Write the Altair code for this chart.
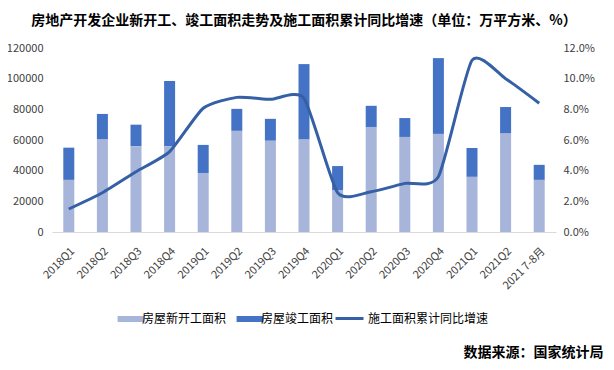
import altair as alt
import pandas as pd

periods = ["2018Q1", "2018Q2", "2018Q3", "2018Q4",
           "2019Q1", "2019Q2", "2019Q3", "2019Q4",
           "2020Q1", "2020Q2", "2020Q3", "2020Q4",
           "2021Q1", "2021Q2", "2021 7-8月"]
new_starts = [34000, 60500, 56000, 56000, 38500, 66000, 59600, 60600,
              27400, 68500, 62000, 64000, 36000, 64500, 34000]
completions = [21000, 16500, 14000, 42500, 18300, 14300, 14200, 48900,
               15600, 13800, 12300, 49400, 18800, 17000, 9800]
growth = [1.5, 2.56, 3.93, 5.24, 8.07, 8.78, 8.65, 8.72,
          2.56, 2.63, 3.17, 3.61, 11.2, 10.0, 8.4]

s_new = "房屋新开工面积"
s_comp = "房屋竣工面积"
s_line = "施工面积累计同比增速"

rows = []
for p, a, b in zip(periods, new_starts, completions):
    rows.append({"period": p, "series": s_new, "value": a, "ord": 0})
    rows.append({"period": p, "series": s_comp, "value": b, "ord": 1})
bars_df = pd.DataFrame(rows)
line_df = pd.DataFrame({"period": periods, "rate": [g / 100 for g in growth], "series": s_line})

FONT = "Noto Sans CJK SC"
TXT = "#404040"

x_enc = alt.X("period:N", sort=periods,
              scale=alt.Scale(paddingInner=0, paddingOuter=0),
              axis=alt.Axis(title="数据来源：国家统计局", titleAnchor="end", titleAlign="right",
                            titleX=551, titleY=120, titleBaseline="middle",
                            titleFontSize=14, titleFontWeight="bold", titleColor="#000000",
                            titleFont=FONT,
                            labelAngle=-45, labelFontSize=11, labelColor=TXT, labelFont=FONT,
                            ticks=False, domainColor="#D9D9D9", domainWidth=1,
                            labelPadding=13, grid=False))

bars = alt.Chart(bars_df).mark_bar(width=11).encode(
    x=x_enc,
    y=alt.Y("value:Q", stack="zero",
            scale=alt.Scale(domain=[0, 120000]),
            axis=alt.Axis(title=None, values=[0, 20000, 40000, 60000, 80000, 100000, 120000],
                          format="d", ticks=False, domain=False, grid=False,
                          labelFontSize=11, labelColor=TXT, labelFont=FONT, labelPadding=9)),
    color=alt.Color("series:N",
                    scale=alt.Scale(domain=[s_new, s_comp], range=["#A8B5DA", "#4472C4"]),
                    legend=alt.Legend(title=None, orient="none", legendX=72, legendY=264,
                                      direction="horizontal",
                                      symbolType="M-2,-0.45L2,-0.45L2,0.45L-2,0.45Z", symbolSize=180,
                                      symbolStrokeWidth=0,
                                      labelFontSize=12, labelFont=FONT, labelColor="#000000",
                                      labelOffset=4, columnPadding=9)),
    order=alt.Order("ord:Q"),
)

line = alt.Chart(line_df).mark_line(interpolate="cardinal", tension=0.4, strokeWidth=3).encode(
    x=alt.X("period:N", sort=periods),
    y=alt.Y("rate:Q", scale=alt.Scale(domain=[0, 0.12]),
            axis=alt.Axis(title=None, orient="right", values=[0, 0.02, 0.04, 0.06, 0.08, 0.10, 0.12],
                          format=".1%", ticks=False, domain=False, grid=False,
                          labelFontSize=11, labelColor=TXT, labelFont=FONT, labelPadding=7)),
    stroke=alt.Stroke("series:N", scale=alt.Scale(domain=[s_line], range=["#3560A6"]),
                      legend=alt.Legend(title=None, orient="none", legendX=282, legendY=255,
                                        symbolType="stroke", symbolSize=784, symbolStrokeWidth=3,
                                        labelFontSize=12, labelFont=FONT, labelColor="#000000",
                                        labelOffset=3)),
)

chart = alt.layer(bars, line).resolve_scale(y="independent", color="independent").properties(
    width=504, height=184,
    title=alt.TitleParams("房地产开发企业新开工、竣工面积走势及施工面积累计同比增速（单位：万平方米、%）",
                          fontSize=14, fontWeight="bold", font=FONT, color="#000000",
                          anchor="middle", offset=14),
    padding={"left": 44, "top": 40, "right": 50, "bottom": 130},
    autosize=alt.AutoSizeParams(type="none"),
).configure_view(stroke=None)

chart.save("out.html", embed_options={"renderer": "svg", "actions": False})
